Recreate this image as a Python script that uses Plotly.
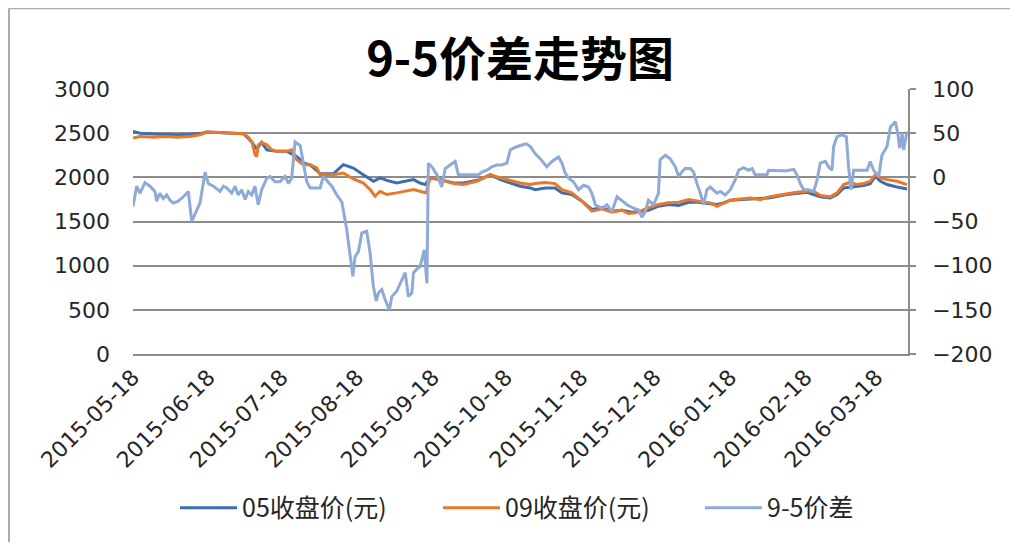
import pandas as pd
import plotly.graph_objects as go

# ---------------- data ----------------
base_date = "2015-05-18"
tick_dates = ["2015-05-18", "2015-06-18", "2015-07-18", "2015-08-18", "2015-09-18",
              "2015-10-18", "2015-11-18", "2015-12-18", "2016-01-18", "2016-02-18",
              "2016-03-18"]

# day offsets from base_date, and values
c05_day = [0, 2.9, 8.3, 13.8, 17.9, 23.4, 27.5, 30.2, 35.7, 41.2,
           45.3, 47.3, 48.7, 50.8, 52.8, 54.9, 59, 63.1, 65.1, 67.2,
           69.9, 72.7, 76.8, 82.2, 86.3, 90.4, 94.5, 98.7, 101.4, 104.1,
           108.2, 112.3, 115.1, 117.8, 119.9, 121.9, 126, 131.5, 135.6, 142.4,
           146.6, 150.7, 154.8, 158.9, 163, 165, 169.1, 173.2, 176, 180.1,
           184.2, 188.3, 192.4, 196.5, 200.6, 204.7, 208.8, 211.5, 215.6, 219.7,
           223.9, 228, 232.1, 236.2, 239.6, 242.3, 245.1, 253.3, 260.8, 268.3,
           276.6, 279.3, 282, 286.1, 288.9, 291.6, 294.3, 299.8, 302.5, 304.6,
           306.7, 309.4, 313.5, 317.6]
c05_val = [2519, 2500, 2490, 2480, 2480, 2485, 2495, 2512, 2508, 2500,
           2493, 2440, 2400, 2320, 2395, 2312, 2294, 2294, 2270, 2237,
           2162, 2140, 2042, 2040, 2143, 2105, 2030, 1955, 1993, 1966,
           1936, 1955, 1974, 1936, 1918, 1993, 1974, 1936, 1936, 1974,
           2030, 1974, 1936, 1899, 1880, 1861, 1880, 1880, 1824, 1805,
           1730, 1636, 1655, 1617, 1628, 1605, 1617, 1628, 1673, 1692,
           1681, 1718, 1718, 1703, 1692, 1710, 1741, 1756, 1767, 1805,
           1831, 1805, 1779, 1767, 1805, 1880, 1891, 1906, 1929, 2011,
           1955, 1918, 1891, 1869]

c09_day = [0, 2.9, 8.3, 13.8, 17.9, 23.4, 27.5, 30.2, 35.7, 41.2,
           45.3, 47.3, 48.7, 50.1, 50.8, 51.4, 52.8, 54.9, 56.9, 59,
           63.1, 65.1, 67.2, 69.9, 72.7, 75.4, 76.8, 82.2, 86.3, 90.4,
           94.5, 97.3, 99.3, 101.4, 104.1, 108.2, 112.3, 115.1, 117.8, 120.3,
           121.9, 126, 131.5, 135.6, 141.1, 146.6, 150.7, 154.8, 158.9, 163,
           165, 169.1, 173.2, 176, 180.1, 184.2, 188.3, 192.4, 196.5, 200.6,
           203.3, 206.1, 208.8, 211.5, 215.6, 219.7, 223.9, 228, 232.1, 236.9,
           239.6, 242.3, 245.1, 249.2, 253.3, 257.4, 260.8, 264.2, 268.3, 272.4,
           276.6, 279.3, 282, 286.1, 288.9, 291.6, 294.3, 297.1, 299.8, 302.5,
           304.6, 306.7, 309.4, 313.5, 317.6]
c09_val = [2444, 2463, 2455, 2463, 2455, 2463, 2482, 2512, 2508, 2500,
           2493, 2455, 2406, 2256, 2237, 2369, 2395, 2369, 2312, 2294,
           2294, 2312, 2200, 2143, 2143, 2106, 2030, 2030, 2049, 1982,
           1936, 1861, 1786, 1842, 1805, 1824, 1842, 1861, 1842, 1824,
           1993, 1974, 1929, 1918, 1955, 2030, 1993, 1966, 1936, 1918,
           1929, 1940, 1929, 1861, 1824, 1730, 1617, 1643, 1605, 1628,
           1590, 1598, 1628, 1654, 1692, 1711, 1718, 1748, 1730, 1711,
           1673, 1703, 1741, 1756, 1767, 1748, 1779, 1794, 1816, 1831,
           1843, 1843, 1794, 1779, 1824, 1918, 1944, 1918, 1929, 1955,
           2030, 1993, 1974, 1955, 1918]

spread_day = [0, 1.5, 2.9, 4.9, 7, 9, 9.7, 11, 12.4, 13.8,
              15.2, 16.5, 18.6, 20.7, 22.7, 24.1, 25.5, 27.5, 29.6, 30.9,
              33, 35.7, 37.1, 38.5, 40.5, 41.9, 43.2, 44.6, 46, 47.3,
              48.7, 50, 51.4, 52.8, 54.9, 56.2, 58.3, 60.3, 62.4, 63.8,
              65.1, 66.5, 68.6, 69.9, 71.3, 72.7, 75.4, 76.8, 78.1, 79.5,
              81.6, 83.6, 85.7, 87.7, 89.1, 90.2, 91.1, 92.5, 93.9, 95.9,
              97.3, 98.6, 99.8, 100.7, 102.1, 103.4, 105.2, 106.2, 108.2, 110.3,
              111.7, 113, 114.4, 115.1, 116.4, 117.8, 119.5, 120.6, 121.2, 122.6,
              124.7, 126.7, 128.1, 130.1, 132.2, 133.5, 135.6, 138.3, 141.8, 143.1,
              145.2, 147.2, 149.3, 151.3, 153.4, 154.8, 156.1, 158.9, 161.3, 163,
              165, 167.1, 169.8, 171.9, 174.6, 176, 177.3, 178.7, 180.7, 182.8,
              184.9, 186.9, 188.3, 189.7, 192.4, 194.5, 196.5, 198.6, 200.6, 202.7,
              205.4, 207.4, 208.8, 210.2, 211.5, 213.6, 215.6, 216.3, 218.4, 220.4,
              222.5, 223.9, 225.2, 226.6, 228.7, 230, 231.4, 232.8, 234.1, 235.5,
              236.9, 238.2, 239.6, 241, 243, 245.1, 247.1, 248.5, 250.5, 252.6,
              254, 255.3, 257.4, 260.1, 260.8, 262.9, 265.6, 268.3, 271.1, 272.4,
              273.8, 275.2, 277.2, 279.3, 280.7, 282, 284.1, 285.4, 286.8, 287.5,
              288.9, 290.9, 292.7, 293.6, 294.6, 295.7, 298.4, 301.2, 302.5, 303.9,
              306, 307.3, 309.4, 310.8, 312.8, 313.8, 314.6, 315.6, 316.2, 317.6]
spread_val = [-33, -10, -18, -6, -10, -16, -27, -18, -24, -20,
              -26, -29, -27, -22, -16, -50, -41, -29, 6, -7,
              -10, -16, -10, -12, -18, -10, -20, -14, -25, -16,
              -20, -10, -31, -14, -1, 1, -5, -5, 1, -7,
              -1, 40, 36, 16, -5, -12, -12, -12, 1, -3,
              -10, -20, -28, -59, -86, -112, -90, -84, -63, -61,
              -86, -123, -140, -131, -127, -138, -150, -135, -129, -116,
              -108, -135, -131, -108, -104, -101, -82, -120, 16, 12,
              3, -11, 10, 14, 18, 3, 3, 3, 3, 6,
              8, 12, 14, 14, 16, 31, 33, 36, 38, 35,
              27, 21, 12, 18, 23, 16, 5, -1, -5, -14,
              -9, -11, -18, -31, -35, -31, -39, -22, -26, -31,
              -35, -37, -45, -39, -26, -31, -18, 20, 25, 21,
              12, 1, 6, 10, 10, 6, -7, -18, -31, -14,
              -11, -14, -18, -16, -20, -14, -3, 8, 11, 8,
              10, 3, 3, 3, 8, 7.5, 7.5, 7.5, 9, 3,
              -7, -14, -14, -16, -3, 16, 18, 12, 8, 35,
              46, 48, 46, 12, -14, 8, 8, 8, 18, 8,
              1, 25, 35, 57, 63, 50, 33, 50, 31, 52]

names = ["05收盘价(元)", "09收盘价(元)", "9-5价差"]
left_ticks = [0, 500, 1000, 1500, 2000, 2500, 3000]
right_ticks = [-200, -150, -100, -50, 0, 50, 100]

# ---------------- build figure ----------------
base = pd.Timestamp(base_date)
def to_dates(days):
    return base + pd.to_timedelta(days, unit="D")

colors = ["#3C6DB2", "#E8792A", "#8EAAD6"]
tick_font = dict(family="DejaVu Sans", size=22, color="#262626")
grid_col = "#8C8C8C"

fig = go.Figure()
fig.add_trace(go.Scatter(x=to_dates(c05_day), y=c05_val, name=names[0], mode="lines",
                         line=dict(color=colors[0], width=3), legend="legend"))
fig.add_trace(go.Scatter(x=to_dates(c09_day), y=c09_val, name=names[1], mode="lines",
                         line=dict(color=colors[1], width=3), legend="legend2"))
fig.add_trace(go.Scatter(x=to_dates(spread_day), y=spread_val, name=names[2], mode="lines",
                         yaxis="y2", line=dict(color=colors[2], width=3), legend="legend3"))

x_end = pd.Timestamp("2016-03-31")

def legend_at(px):
    # px: page x of the legend line start
    return dict(orientation="h", x=(px - 5 - 133) / 775, xanchor="left",
                y=-0.575, yanchor="middle",
                font=dict(family="Noto Sans CJK SC", size=25, color="#262626"),
                itemwidth=57, bgcolor="rgba(0,0,0,0)")

# the page adds an 8px body margin, so the figure is 1010x534 placed at (8,8)
fig.update_layout(
    width=1010, height=534,
    margin=dict(l=125, r=110, t=81, b=187),
    paper_bgcolor="white", plot_bgcolor="white",
    title=dict(text="<b>9-5价差走势图</b>", x=0.507, xanchor="center", y=0.903, yanchor="middle",
               font=dict(family="Noto Sans CJK SC", size=47, color="#000000")),
    xaxis=dict(type="date", range=[base, x_end], tickvals=pd.to_datetime(tick_dates),
               tickformat="%Y-%m-%d", tickangle=-45, showgrid=False, zeroline=False,
               showline=True, linecolor=grid_col, linewidth=1.5, ticks="",
               tickfont=tick_font, automargin=False),
    yaxis=dict(range=[0, 3000], tickvals=left_ticks, showgrid=True, gridcolor=grid_col,
               gridwidth=1.5, zeroline=False, showline=False, ticks="",
               ticklabelstandoff=22, tickfont=tick_font, automargin=False),
    yaxis2=dict(range=[-200, 100], tickvals=right_ticks, overlaying="y", side="right",
                showgrid=False, zeroline=False, showline=True, linecolor=grid_col,
                linewidth=1.5, ticks="outside", ticklen=6, tickcolor=grid_col,
                tickwidth=1.5, ticklabelstandoff=12, tickfont=tick_font, automargin=False),
    legend=legend_at(180),
    legend2=legend_at(443),
    legend3=legend_at(705),
    showlegend=True,
    shapes=[
        dict(type="line", xref="paper", yref="paper", x0=(9 - 133) / 775, x1=(1030 - 133) / 775,
             y0=(355 - 8) / 266, y1=(355 - 8) / 266, line=dict(color="#ABABAB", width=2)),
        dict(type="line", xref="paper", yref="paper", x0=(9 - 133) / 775, x1=(9 - 133) / 775,
             y0=(355 - 8) / 266, y1=(355 - 560) / 266, line=dict(color="#ABABAB", width=2)),
    ],
)

fig.write_html("out.html")
